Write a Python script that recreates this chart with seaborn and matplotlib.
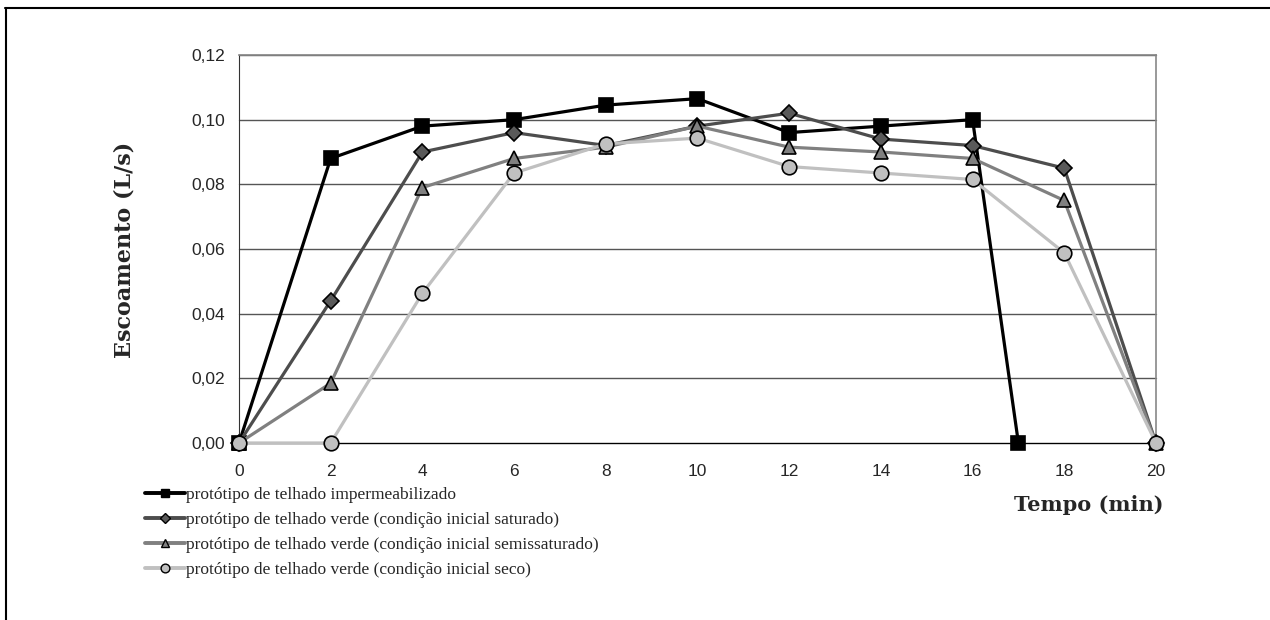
"""Escoamento dos protótipos de telhado ao longo do tempo."""
import pandas as pd
import matplotlib
matplotlib.use("Agg")
import matplotlib.pyplot as plt
from matplotlib.lines import Line2D
import seaborn as sns

# data
tempo = [0, 2, 4, 6, 8, 10, 12, 14, 16, 18, 20]
tempo_imperm = [0, 2, 4, 6, 8, 10, 12, 14, 16, 17]
imperm = [0.0, 0.088, 0.098, 0.100, 0.1045, 0.1065, 0.096, 0.098, 0.100, 0.0]
saturado = [0.0, 0.044, 0.090, 0.096, 0.092, 0.098, 0.102, 0.094, 0.092, 0.085, 0.0]
semissaturado = [0.0, 0.0185, 0.079, 0.088, 0.0915, 0.098, 0.0915, 0.090, 0.088, 0.075, 0.0]
seco = [0.0, 0.0, 0.0463, 0.0835, 0.0925, 0.0943, 0.0855, 0.0835, 0.0815, 0.0588, 0.0]

labels = [
    "protótipo de telhado impermeabilizado",
    "protótipo de telhado verde (condição inicial saturado)",
    "protótipo de telhado verde (condição inicial semissaturado)",
    "protótipo de telhado verde (condição inicial seco)",
]
x_ticks = list(range(0, 21, 2))
y_ticks = [0.0, 0.02, 0.04, 0.06, 0.08, 0.10, 0.12]

df = pd.concat([
    pd.DataFrame({"tempo": tempo_imperm, "vazao": imperm, "serie": labels[0]}),
    pd.DataFrame({"tempo": tempo, "vazao": saturado, "serie": labels[1]}),
    pd.DataFrame({"tempo": tempo, "vazao": semissaturado, "serie": labels[2]}),
    pd.DataFrame({"tempo": tempo, "vazao": seco, "serie": labels[3]}),
])

# line colour, marker, marker face, marker size
estilos = [
    ("#000000", "s", "#000000", 9.5),
    ("#4d4d4d", "D", "#5a5a5a", 8.5),
    ("#808080", "^", "#808080", 10.5),
    ("#c0c0c0", "o", "#c0c0c0", 10.5),
]

sns.set_style("white")
plt.rcParams["font.family"] = ["Liberation Sans", "DejaVu Sans"]

fig = plt.figure(figsize=(12.7, 6.2), dpi=100)
ax = fig.add_axes([0.1882, 0.2855, 0.722, 0.6258])

for y in y_ticks:
    ax.axhline(y, color="#555555", lw=1, zorder=0)

for lab, (cor, mk, face, ms) in zip(labels, estilos):
    sns.lineplot(data=df[df["serie"] == lab], x="tempo", y="vazao", ax=ax,
                 color=cor, lw=2.3, marker=mk, markersize=ms,
                 markerfacecolor=face, markeredgecolor="#000000",
                 markeredgewidth=1.2, legend=False, zorder=3)

ax.set_xlim(0, 20)
ax.set_ylim(0, 0.12)
ax.set_xticks(x_ticks)
ax.set_yticks(y_ticks)
ax.set_yticklabels([f"{v:.2f}".replace(".", ",") for v in y_ticks])
ax.tick_params(axis="both", length=0, labelsize=12.5)
ax.tick_params(axis="x", pad=15)
ax.tick_params(axis="y", pad=10)

for side in ["top", "right"]:
    ax.spines[side].set_color("#888888")
    ax.spines[side].set_linewidth(1.2)
ax.spines["left"].set_color("#333333")
ax.spines["bottom"].set_color("#000000")
for sp in ax.spines.values():
    sp.set_zorder(1)
    sp.set_visible(True)

for m in ax.lines:
    m.set_clip_on(False)

ax.set_xlabel("")
ax.set_ylabel("")
fig.text(0.098, 0.597, "Escoamento (L/s)", rotation=90, ha="center", va="center",
         family=["DejaVu Serif"], weight="bold", fontsize=16)
fig.text(0.9165, 0.185, "Tempo (min)", ha="right", va="center",
         family=["DejaVu Serif"], weight="bold", fontsize=15)

handles = [Line2D([], [], color=cor, lw=2.8, marker=mk, markersize=ms * 0.6,
                  markerfacecolor=face, markeredgecolor="#000000", markeredgewidth=1)
           for cor, mk, face, ms in estilos]
fig.legend(handles, labels, loc="upper left", bbox_to_anchor=(0.1085, 0.2255),
           frameon=False, handlelength=2.3, handletextpad=0.1, labelspacing=0.51,
           borderaxespad=0, prop={"family": "Liberation Serif", "size": 12.5})

# moldura da figura (apenas topo e esquerda visíveis no recorte)
fig.add_artist(Line2D([0.004, 1.0], [0.987, 0.987], color="#000000", lw=1.5,
                      transform=fig.transFigure))
fig.add_artist(Line2D([0.0045, 0.0045], [0.0, 0.987], color="#000000", lw=1.5,
                      transform=fig.transFigure))

fig.savefig("out.png", dpi=100, facecolor="white")
